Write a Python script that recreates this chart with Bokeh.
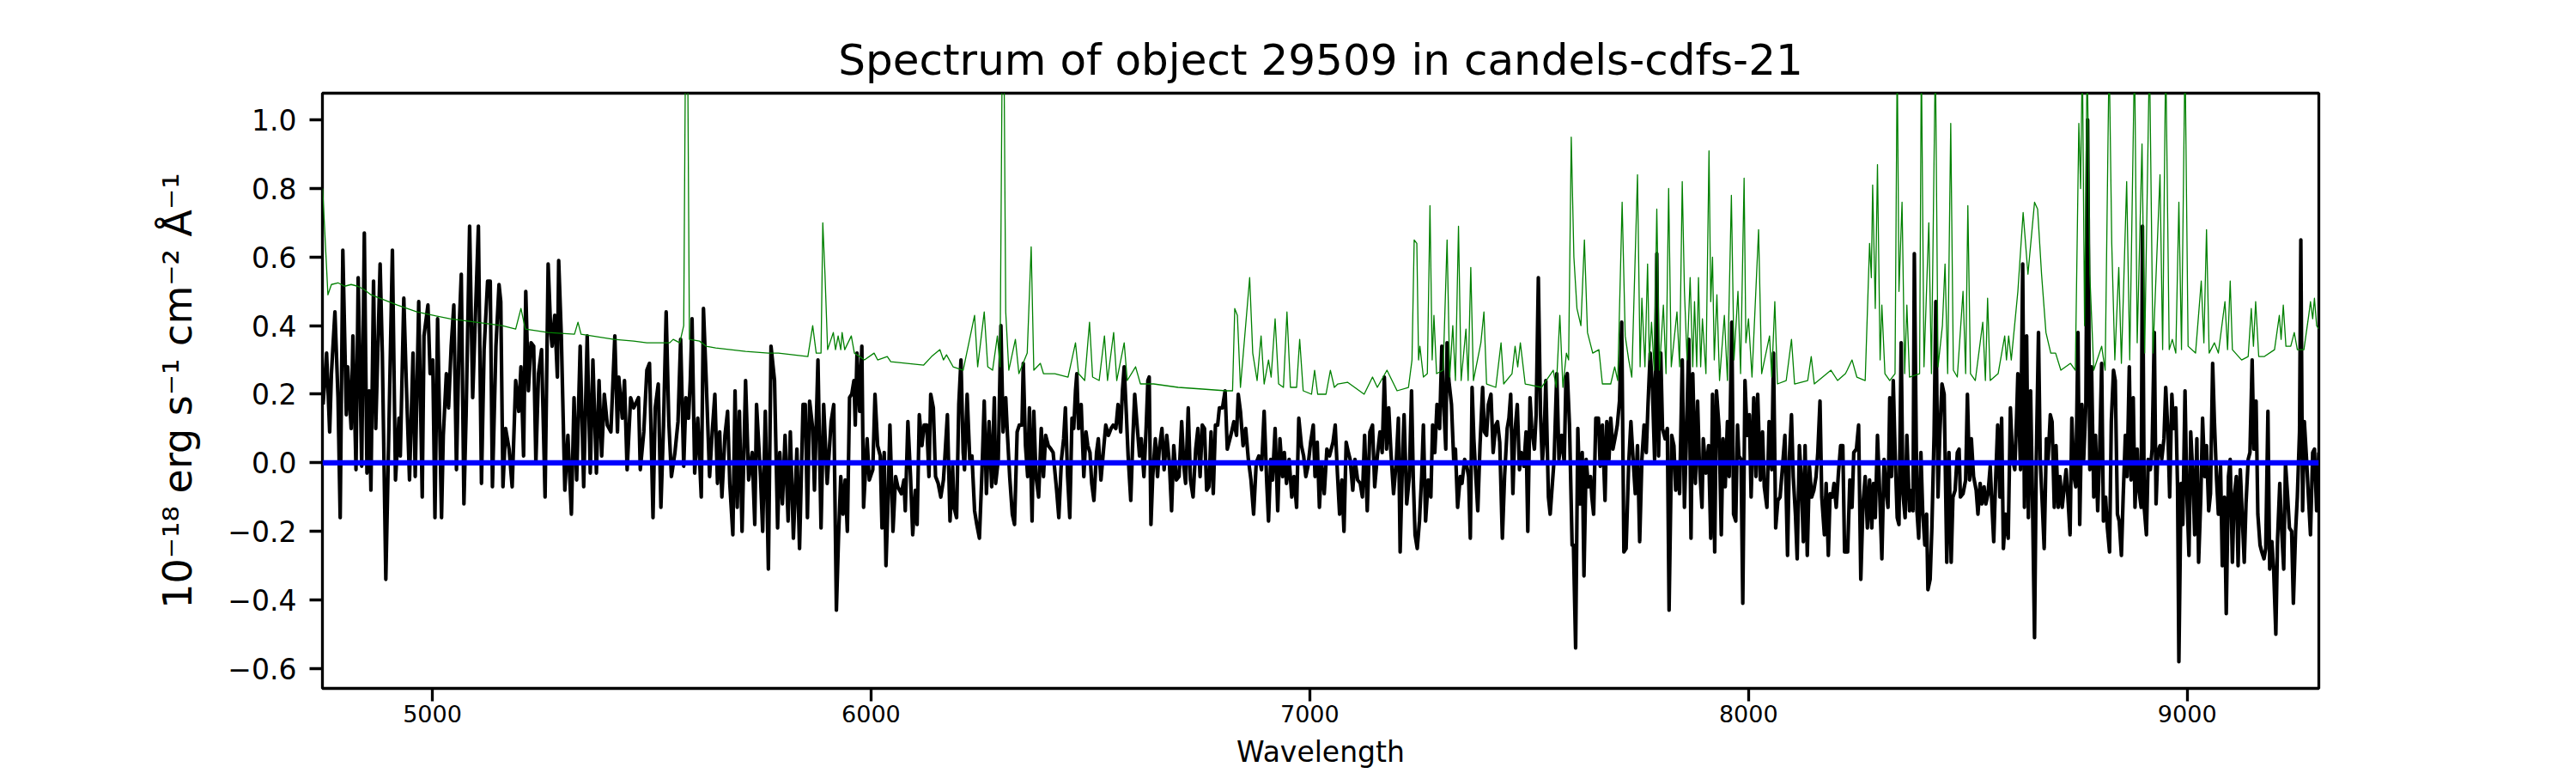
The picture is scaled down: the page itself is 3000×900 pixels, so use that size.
from bokeh.plotting import figure
from bokeh.models import Range1d, FixedTicker, CustomJSTickFormatter, Span
from bokeh.embed import file_html
from bokeh.resources import INLINE

# ---------------- data ----------------
title_text = "Spectrum of object 29509 in candels-cdfs-21"
x_label = "Wavelength"
y_label = "10\u207b\u00b9\u2078 erg s\u207b\u00b9 cm\u207b\u00b2 \u00c5\u207b\u00b9"

x_ticks = [5000, 6000, 7000, 8000, 9000]
y_ticks = [-0.6, -0.4, -0.2, 0.0, 0.2, 0.4, 0.6, 0.8, 1.0]
x_limits = (4749.5, 9300.0)
y_limits = (-0.658, 1.078)
zero_level = 0.0

# observed flux (black)
wave_flux = [
    4751, 4759, 4766, 4770, 4778, 4785, 4790, 4796, 4804, 4807, 4815, 4819, 4826, 4831, 4839, 4845,
    4851, 4856, 4860, 4866, 4871, 4881, 4886, 4894, 4901, 4909, 4916, 4924, 4927, 4935, 4941, 4948,
    4956, 4961, 4969, 4977, 4981, 4990, 4995, 5001, 5006, 5012, 5021, 5025, 5032, 5037, 5043, 5049,
    5055, 5062, 5066, 5072, 5077, 5085, 5092, 5105, 5112, 5118, 5126, 5132, 5137, 5145, 5152, 5156,
    5161, 5167, 5175, 5182, 5190, 5197, 5202, 5208, 5213, 5219, 5225, 5231, 5236, 5242, 5249, 5257,
    5264, 5270, 5273, 5279, 5285, 5288, 5294, 5302, 5309, 5317, 5323, 5329, 5337, 5345, 5353, 5360,
    5366, 5374, 5380, 5386, 5392, 5399, 5407, 5416, 5422, 5425, 5433, 5438, 5444, 5452, 5459, 5470,
    5474, 5482, 5489, 5495, 5503, 5508, 5515, 5521, 5527, 5533, 5539, 5545, 5553, 5560, 5566, 5573,
    5578, 5584, 5588, 5592, 5598, 5605, 5613, 5618, 5624, 5632, 5638, 5644, 5650, 5655, 5660, 5667,
    5673, 5678, 5685, 5690, 5695, 5700, 5706, 5714, 5721, 5729, 5735, 5739, 5748, 5753, 5759, 5766,
    5772, 5780, 5787, 5792, 5798, 5804, 5811, 5816, 5823, 5831, 5837, 5845, 5850, 5855, 5860, 5867,
    5871, 5879, 5886, 5892, 5900, 5909,
    5915, 5921, 5926, 5931, 5936, 5941, 5946, 5951, 5956, 5961, 5964, 5968, 5974, 5979, 5983, 5991,
    5996, 6004, 6009, 6015, 6021, 6025, 6030, 6034, 6039, 6043, 6050, 6056, 6061, 6069, 6075, 6078,
    6084, 6090, 6095, 6101, 6105, 6110, 6116, 6121, 6127, 6132, 6136, 6142, 6147, 6153, 6159, 6165,
    6168, 6174, 6180, 6186, 6189, 6195, 6200, 6205, 6210, 6213, 6219, 6225, 6230, 6236, 6241, 6247,
    6253, 6258, 6263, 6269, 6275, 6281, 6284, 6290, 6296, 6301, 6307, 6311, 6316, 6322, 6327, 6333,
    6338, 6344, 6347, 6352, 6357, 6361, 6367, 6371, 6376, 6382, 6388, 6393, 6398, 6404, 6410, 6415,
    6423, 6428, 6434, 6439, 6443, 6448, 6453, 6458, 6462, 6466, 6469, 6473, 6479, 6485, 6490, 6494,
    6499, 6503, 6508, 6514, 6518, 6524, 6530, 6535, 6541, 6547, 6552, 6558, 6563, 6569, 6573, 6577,
    6582, 6586, 6592, 6597, 6601, 6607, 6612, 6616, 6622, 6627, 6631, 6634, 6638, 6642, 6648, 6653,
    6657, 6663, 6668, 6674, 6680, 6685, 6690, 6696, 6702, 6708, 6713, 6717, 6723, 6728, 6734, 6740,
    6745, 6750, 6755, 6760, 6765, 6770, 6775, 6780, 6785, 6790, 6794, 6801, 6807, 6812, 6820, 6827,
    6833, 6837, 6842, 6848, 6854, 6860, 6866, 6872, 6878, 6884, 6890, 6896, 6902, 6906, 6911, 6915,
    6921, 6927, 6932, 6938, 6942, 6947, 6953, 6959, 6964, 6970, 6975, 6981, 6986, 6991, 6996, 7002,
    7008, 7012, 7017, 7022, 7027, 7033, 7039, 7045,
    7053, 7058, 7063, 7068, 7073, 7078, 7083, 7088, 7092, 7098, 7103, 7109, 7115, 7120, 7125, 7131,
    7137, 7143, 7148, 7154, 7160, 7165, 7170, 7175, 7180, 7185, 7191, 7197, 7202, 7206, 7212, 7215,
    7221, 7227, 7232, 7236, 7240, 7245, 7250, 7255, 7259, 7264, 7270, 7276, 7280, 7285, 7290, 7296,
    7301, 7305, 7310, 7313, 7317, 7323, 7328, 7332, 7337, 7343, 7347, 7353, 7358, 7362, 7366, 7370,
    7374, 7379, 7383, 7388, 7394, 7398, 7403, 7407, 7413, 7418, 7424, 7428, 7433, 7439, 7444, 7450,
    7454, 7458, 7463, 7467, 7473, 7478, 7482, 7488, 7493, 7497, 7502, 7506, 7512, 7516, 7521, 7526,
    7530, 7534, 7538, 7544, 7548, 7553, 7557, 7563, 7568, 7574, 7580, 7584, 7587, 7592, 7598, 7601,
    7606, 7611, 7616, 7621, 7625, 7630, 7635, 7640, 7643, 7647, 7652, 7658, 7662, 7667, 7673, 7677,
    7682, 7686, 7691, 7697, 7701, 7706, 7711, 7716, 7721, 7727, 7732, 7737, 7742, 7747, 7752, 7757,
    7762, 7767, 7771, 7776, 7781, 7786, 7791, 7795, 7800, 7804, 7810, 7815, 7819, 7825, 7830, 7834,
    7839, 7843, 7849, 7854, 7858, 7864, 7869, 7873, 7879, 7884, 7888, 7894, 7897, 7903, 7909, 7914,
    7918, 7923, 7927, 7933, 7938, 7942, 7947, 7952, 7956, 7962, 7966, 7971, 7975, 7978, 7983, 7987,
    7992, 7997, 8002, 8006, 8012, 8017, 8021, 8027, 8032, 8036, 8042, 8047, 8053, 8057, 8062, 8067,
    8072, 8077, 8083, 8089, 8093, 8098, 8102, 8107, 8111, 8116, 8120, 8125, 8129, 8134, 8139, 8144,
    8149, 8154, 8158, 8163, 8167, 8173, 8177, 8182, 8186, 8191, 8195, 8200, 8205, 8210, 8215, 8219,
    8226, 8231, 8236, 8240, 8246, 8251, 8256, 8261, 8266, 8271, 8276, 8281, 8285, 8289, 8294, 8298,
    8304, 8309, 8313, 8318, 8322, 8326, 8330, 8334, 8339, 8343, 8348, 8352, 8357, 8361, 8367, 8372,
    8375, 8378, 8384, 8388, 8393, 8397, 8402, 8406, 8409, 8414, 8418, 8423, 8427, 8432, 8436, 8441,
    8446, 8452, 8457, 8462, 8466, 8471, 8476, 8480, 8483, 8489, 8495, 8499, 8504, 8508, 8513, 8519,
    8523, 8528, 8532, 8537, 8541, 8546, 8551, 8554, 8559, 8563, 8568, 8573, 8577, 8581, 8586, 8592,
    8597, 8602, 8607, 8611, 8614, 8620, 8625, 8629, 8634, 8638, 8643, 8647, 8652, 8656, 8661, 8665,
    8670, 8674, 8679, 8683, 8688, 8692, 8697, 8701, 8706, 8710, 8715, 8719, 8724, 8728, 8733, 8737,
    8742, 8746, 8751, 8755, 8760, 8764, 8769, 8773, 8778, 8782, 8787, 8791, 8796, 8800, 8805, 8809,
    8814, 8818, 8823, 8827, 8832, 8836, 8841, 8845, 8850, 8854, 8859, 8863, 8868, 8872, 8877, 8881,
    8886, 8890, 8895, 8898, 8902, 8907, 8911, 8916, 8920, 8925, 8929, 8933, 8938, 8942, 8947, 8951,
    8956, 8960, 8965, 8969, 8974, 8978, 8981, 8986, 8990, 8995, 8999, 9004, 9008, 9013, 9017, 9022,
    9026, 9031, 9035, 9040, 9044, 9049, 9053, 9058, 9062, 9067, 9071, 9076, 9080, 9085, 9089, 9094,
    9098, 9103, 9107, 9112, 9116, 9121, 9125, 9130, 9134, 9139, 9143, 9148, 9152, 9157, 9161, 9166,
    9170, 9175, 9179, 9184, 9188, 9193, 9197, 9202, 9206, 9211, 9215, 9220, 9224, 9229, 9233, 9238,
    9242, 9247, 9251, 9256, 9259, 9263, 9267, 9272, 9276, 9281, 9286, 9290, 9295, 9300,
]
flux = [
    0.17, 0.32, 0.09, 0.26, 0.44, 0.19, -0.16, 0.62, 0.14, 0.28, 0.10, 0.37, -0.02, 0.54, -0.01, 0.67,
    -0.03, 0.21, -0.08, 0.53, 0.10, 0.58, 0.32, -0.34, 0.10, 0.62, -0.05, 0.13, 0.02, 0.48, 0.22, -0.05,
    0.32, -0.04, 0.47, -0.10, 0.37, 0.46, 0.26, 0.30, -0.16, 0.42, -0.16, 0.08, 0.26, 0.16, 0.34, 0.46,
    -0.02, 0.42, 0.55, -0.12, 0.14, 0.69, 0.19, 0.69, -0.06, 0.33, 0.53, 0.53, -0.07, 0.34, 0.52, 0.47,
    -0.07, 0.10, 0.04, -0.07, 0.24, 0.15, 0.28, 0.02, 0.50, 0.21, 0.35, 0.34, 0.00, 0.26, 0.33, -0.10,
    0.58, 0.38, 0.34, 0.43, 0.25, 0.59, 0.37, -0.08, 0.08, -0.15, 0.19, -0.05, 0.34, -0.07, 0.37, -0.03,
    0.30, -0.03, 0.24, 0.02, 0.20, 0.11, 0.09, 0.37, 0.09, 0.25, 0.13, 0.24, -0.02, 0.19, 0.16, 0.19,
    -0.02, 0.09, 0.27, 0.29, -0.16, 0.16, 0.23, -0.13, 0.11, 0.44, 0.12, -0.04, 0.03, 0.12, 0.36, -0.01,
    0.19, 0.13, 0.24, 0.42, -0.03, 0.13, -0.10, 0.45, 0.25, -0.04, 0.09, 0.20, -0.06, 0.09, -0.10, 0.08,
    0.15, -0.06, -0.21, 0.21, -0.13, 0.15, -0.20, 0.24, -0.05, 0.03, -0.18, 0.17, -0.04, -0.20, 0.15, -0.31,
    0.34, 0.24, -0.19, 0.03, -0.12, 0.08, -0.17, 0.09, -0.22, 0.04, -0.25, 0.17, 0.17, -0.16, 0.18, 0.10,
    -0.08, 0.30, -0.19, 0.17, -0.06, 0.12,
    0.17, -0.43, -0.21, -0.04, -0.15, -0.05, -0.20, 0.19, 0.20, 0.24, 0.11, 0.32, 0.15, 0.34, -0.13, 0.07,
    -0.05, -0.02, 0.20, 0.05, 0.02, -0.19, 0.03, -0.30, -0.10, 0.11, -0.20, -0.04, -0.07, -0.09, -0.05, -0.14,
    0.12, -0.04, -0.21, -0.08, -0.18, 0.14, 0.05, 0.11, 0.11, -0.04, 0.20, 0.16, -0.04, -0.06, -0.10, -0.05,
    0.01, 0.14, -0.17, -0.01, -0.13, -0.16, 0.17, 0.30, 0.03, -0.02, 0.20, 0.01, 0.02, -0.14, -0.18, -0.22,
    -0.02, 0.18, -0.09, 0.12, -0.07, 0.19, -0.06, 0.01, 0.40, 0.09, 0.19, 0.08, -0.04, -0.15, -0.18, 0.09,
    0.11, 0.11, 0.29, 0.05, -0.04, 0.16, -0.17, 0.15, -0.04, -0.10, 0.10, -0.04, 0.08, 0.05, 0.04, 0.03,
    -0.08, -0.16, 0.01, 0.07, 0.16, -0.04, -0.16, 0.13, 0.10, 0.21, 0.26, 0.10, 0.17, -0.04, 0.09, 0.05,
    0.03, -0.06, -0.11, 0.03, 0.07, -0.05, 0.04, 0.11, 0.08, 0.10, 0.11, 0.10, 0.17, 0.09, 0.21, 0.28,
    0.14, 0.02, -0.11, 0.08, 0.20, 0.10, 0.02, 0.07, -0.04, 0.10, 0.24, 0.25, -0.18, -0.04, 0.07, -0.04,
    0.04, 0.10, -0.02, 0.08, 0.00, -0.14, 0.05, -0.05, -0.04, 0.12, -0.01, -0.06, 0.16, -0.05, -0.10, 0.04,
    0.10, -0.04, 0.11, 0.10, -0.08, -0.07, 0.09, -0.09, 0.11, 0.11, 0.16, 0.16, 0.21, 0.04, 0.08, 0.12,
    0.08, 0.20, 0.15, 0.05, 0.10, 0.01, -0.05, -0.15, 0.00, 0.02, -0.02, 0.15, -0.06, -0.17, 0.01, -0.05,
    0.10, -0.14, 0.07, -0.04, 0.03, -0.06, 0.01, -0.10, -0.04, -0.13, 0.13, 0.05, 0.02, -0.04, -0.01, 0.06,
    0.11, -0.04, 0.06, -0.13, 0.00, -0.09, 0.04, 0.02,
    0.06, 0.11, -0.03, -0.15, -0.05, -0.20, 0.06, 0.03, 0.01, -0.08, 0.01, -0.05, -0.06, -0.10, 0.08, -0.14,
    0.09, 0.11, -0.07, 0.02, 0.09, 0.03, 0.25, 0.04, 0.16, 0.03, -0.09, 0.00, 0.13, -0.26, 0.04, 0.14,
    -0.12, -0.04, 0.21, -0.05, -0.21, -0.25, -0.17, -0.04, 0.11, -0.17, -0.05, -0.10, 0.11, 0.03, 0.17, 0.10,
    0.34, 0.18, 0.04, 0.35, 0.24, 0.17, 0.01, 0.04, -0.13, -0.04, -0.06, 0.01, -0.01, -0.04, -0.22, 0.22,
    0.07, -0.05, -0.14, 0.05, 0.22, 0.09, 0.08, 0.17, 0.20, 0.03, 0.11, 0.12, 0.06, -0.22, -0.04, 0.10,
    0.13, 0.20, -0.09, 0.08, 0.17, -0.02, 0.03, -0.01, 0.09, -0.20, 0.19, 0.10, 0.04, 0.14, 0.54, 0.14,
    0.00, 0.07, 0.24, -0.10, -0.15, -0.06, 0.01, 0.26, 0.01, 0.08, 0.00, 0.25, 0.26, 0.11, -0.24, -0.24,
    -0.54, 0.10, -0.12, 0.03, -0.33, 0.01, -0.07, -0.04, -0.10, -0.15, 0.13, 0.13, -0.01, 0.11, -0.11, 0.12,
    0.01, 0.13, 0.04, 0.08, 0.11, 0.18, 0.41, -0.26, -0.25, 0.00, 0.12, 0.01, -0.09, 0.05, -0.23, 0.01,
    0.11, 0.03, 0.17, 0.32, 0.22, 0.01, 0.61, 0.02, 0.32, 0.10, 0.07, 0.10, -0.43, 0.08, 0.05, -0.08,
    -0.01, -0.09, 0.30, -0.13, 0.05, 0.36, -0.22, 0.26, -0.06, 0.18, 0.00, -0.13, 0.07, -0.03, 0.05, -0.22,
    0.20, -0.26, 0.21, 0.10, -0.21, 0.07, -0.07, 0.12, -0.04, 0.41, -0.15, -0.17, 0.11, 0.02, 0.01, -0.41,
    0.24, 0.08, 0.14, -0.10, 0.19, -0.04, 0.20, -0.05, 0.09, -0.07, -0.13, 0.12, -0.02, 0.32, -0.19, -0.11,
    -0.10, -0.02, 0.08, -0.27, 0.01, 0.14, -0.04, -0.15, -0.28, 0.05, -0.04, -0.23, 0.05, -0.27, -0.01, -0.10,
    -0.08, -0.04, 0.03, 0.18, -0.10, -0.21, -0.06, -0.27, -0.09, -0.10, -0.06, -0.13, -0.03, 0.05, 0.05, -0.26,
    -0.26, -0.05, -0.13, 0.03, 0.04, 0.11, -0.34, -0.12, -0.04, -0.19, -0.05, -0.19, -0.06, -0.16, 0.08, -0.05,
    -0.28, 0.01, -0.07, -0.13, 0.19, -0.04, 0.24, 0.04, -0.16, -0.18, 0.35, -0.09, -0.16, 0.08, -0.14, -0.08,
    -0.14, 0.61, -0.14, -0.22, 0.03, -0.14, -0.24, -0.15, -0.37, -0.34, -0.19, 0.08, 0.47, -0.10, 0.08, 0.23,
    0.20, -0.29, 0.03, -0.29, -0.10, -0.08, 0.03, 0.04, -0.10, -0.09, -0.05, 0.20, -0.05, 0.07, -0.04, -0.08,
    -0.15, -0.06, -0.12, -0.07, -0.12, -0.09, -0.01, -0.10, -0.23, -0.06, 0.11, -0.10, 0.13, -0.25, -0.15, -0.22,
    0.16, 0.01, -0.02, 0.13, 0.26, -0.02, 0.58, -0.13, 0.37, -0.16, 0.21, -0.08, -0.51, 0.01, 0.38, 0.01,
    -0.13, -0.25, 0.07, 0.01, 0.14, 0.12, -0.13, 0.05, -0.13, -0.04, -0.13, -0.08, -0.02, -0.10, -0.21, 0.13,
    -0.04, -0.07, 0.38, -0.18, 0.17, 0.01, 0.17, 1.00, -0.02, 0.28, -0.10, 0.08, -0.14, 0.01, 0.29, -0.17,
    -0.10, -0.19, -0.26, 0.12, 0.27, 0.24, -0.15, -0.17, -0.27, -0.10, 0.08, -0.04, 0.28, -0.05, 0.19, -0.13,
    0.04, -0.08, -0.13, 0.69, -0.13, -0.21, 0.01, -0.02, 0.04, 0.38, -0.12, 0.03, 0.05, 0.01, 0.07, 0.22,
    0.09, -0.10, 0.20, 0.10, 0.16, -0.07, -0.58, -0.06, -0.18, 0.21, -0.08, -0.27, 0.09, -0.04, -0.21, 0.07,
    -0.29, -0.10, 0.13, -0.04, 0.05, -0.14, -0.09, 0.29, 0.12, -0.05, -0.15, -0.01, -0.30, -0.10, -0.44, -0.04,
    0.01, -0.29, -0.10, -0.04, -0.30, -0.02, -0.14, -0.29, -0.12, 0.01, 0.03, 0.30, 0.04, 0.18, -0.15, -0.24,
    -0.26, -0.28, -0.25, 0.15, -0.31, -0.23, -0.31, -0.50, -0.22, -0.06, -0.19, -0.31, 0.00, -0.10, -0.19, -0.20,
    -0.41, -0.20, -0.10, 0.09, 0.65, -0.14, 0.12, 0.01, -0.09, -0.21, 0.03, 0.04, -0.14, 0.03,
]

# sky / noise spectrum (green)
wave_sky = [
    4750, 4762, 4770, 4785, 4800, 4815, 4830, 4845, 4860, 4890, 4920, 4965, 5002, 5040, 5100, 5159,
    5190, 5202, 5212, 5264, 5324, 5332, 5339, 5414, 5459, 5489, 5541, 5549, 5564, 5573, 5577, 5582,
    5586, 5609, 5624, 5646, 5714, 5766, 5789, 5856, 5867, 5875, 5886, 5890,
    5895, 5901, 5914, 5919, 5925, 5931, 5934, 5940, 5955, 5962, 5985, 6007, 6015, 6037, 6045, 6120,
    6138, 6157, 6165, 6172, 6187, 6210, 6236, 6243, 6258, 6266, 6277, 6288, 6294, 6299, 6303, 6307,
    6314, 6329, 6337, 6356, 6365, 6371, 6386, 6393, 6419, 6449, 6466, 6473, 6487, 6498, 6505, 6520,
    6532, 6539, 6553, 6560, 6577, 6584, 6603, 6614, 6644, 6700, 6756, 6809, 6824, 6829, 6835, 6842,
    6863, 6870, 6880, 6889, 6896, 6906, 6912, 6921, 6929, 6940, 6948, 6956, 6970, 6977, 6985, 7004,
    7011, 7018, 7037, 7047, 7056,
    7064, 7086, 7124, 7143, 7154, 7176, 7199, 7225, 7233, 7238, 7244, 7248, 7251, 7259, 7268, 7274,
    7279, 7283, 7289, 7304, 7313, 7319, 7326, 7332, 7339, 7345, 7356, 7361, 7367, 7373, 7390, 7397,
    7403, 7424, 7436, 7442, 7461, 7468, 7474, 7480, 7491, 7528, 7555, 7562, 7570, 7577, 7585, 7590,
    7596, 7602, 7609, 7618, 7626, 7633, 7645, 7659, 7667, 7686, 7695, 7702, 7712, 7719, 7727, 7734,
    7747, 7753, 7757, 7764, 7770, 7774, 7779, 7785, 7791, 7797, 7806, 7812, 7818, 7824, 7837, 7843,
    7849, 7854, 7860, 7867, 7873, 7877, 7882, 7886, 7891, 7895, 7903, 7910, 7914, 7918, 7922, 7928,
    7934, 7945, 7952, 7961, 7967, 7976, 7982, 7990, 7994, 8000, 8008, 8023, 8030, 8048, 8053, 8060,
    8066, 8086, 8098, 8105, 8135, 8143, 8150, 8188, 8203, 8221,
    8225, 8236, 8247, 8266, 8276, 8280, 8283, 8289, 8294, 8300, 8304, 8311, 8322, 8334, 8339, 8343,
    8350, 8356, 8361, 8367, 8390, 8394, 8400, 8411, 8417, 8426, 8432, 8442, 8448, 8454, 8461, 8467,
    8476, 8489, 8495, 8500, 8506, 8517, 8534, 8540, 8545, 8551, 8569, 8584, 8588, 8593, 8599, 8614,
    8626, 8637, 8652, 8659, 8668, 8678, 8689, 8700, 8712, 8734, 8745, 8753, 8757, 8761, 8766, 8772,
    8778, 8787, 8805, 8813, 8822, 8828, 8835, 8844, 8850, 8862, 8869, 8880, 8886, 8897, 8903, 8914,
    8922, 8938, 8944, 8951, 8959, 8966, 8974, 8981, 8987, 8995, 9002, 9019, 9032, 9038, 9044, 9050,
    9062, 9071, 9086, 9092, 9098, 9103, 9124, 9139, 9146, 9151, 9156, 9163, 9176, 9199, 9210, 9214,
    9219, 9225, 9236, 9244, 9251, 9266, 9277, 9281, 9286, 9290, 9295, 9300,
]
sky = [
    0.80, 0.49, 0.52, 0.525, 0.515, 0.52, 0.515, 0.505, 0.49, 0.475, 0.46, 0.44, 0.43, 0.42, 0.41, 0.40,
    0.39, 0.45, 0.39, 0.38, 0.375, 0.41, 0.375, 0.36, 0.355, 0.35, 0.35, 0.36, 0.35, 0.40, 1.20, 1.20,
    0.36, 0.355, 0.34, 0.335, 0.325, 0.32, 0.32, 0.31, 0.40, 0.32, 0.32, 0.70,
    0.55, 0.33, 0.38, 0.33, 0.37, 0.33, 0.38, 0.33, 0.37, 0.32, 0.30, 0.32, 0.30, 0.31, 0.295, 0.285,
    0.31, 0.33, 0.30, 0.315, 0.28, 0.27, 0.43, 0.28, 0.44, 0.28, 0.27, 0.37, 0.28, 1.20, 1.20, 0.44,
    0.27, 0.36, 0.26, 0.32, 0.63, 0.27, 0.29, 0.26, 0.26, 0.25, 0.35, 0.26, 0.24, 0.41, 0.25, 0.24,
    0.37, 0.24, 0.38, 0.24, 0.35, 0.24, 0.28, 0.23, 0.23, 0.22, 0.215, 0.21, 0.21, 0.45, 0.43, 0.22,
    0.54, 0.32, 0.24, 0.37, 0.23, 0.30, 0.25, 0.42, 0.23, 0.22, 0.44, 0.22, 0.22, 0.36, 0.21, 0.20,
    0.27, 0.20, 0.20, 0.27, 0.22,
    0.23, 0.235, 0.20, 0.25, 0.22, 0.27, 0.21, 0.22, 0.30, 0.65, 0.64, 0.30, 0.34, 0.25, 0.26, 0.75,
    0.30, 0.43, 0.26, 0.27, 0.65, 0.25, 0.40, 0.24, 0.69, 0.24, 0.39, 0.24, 0.57, 0.24, 0.35, 0.44,
    0.23, 0.22, 0.35, 0.23, 0.26, 0.34, 0.28, 0.35, 0.23, 0.22, 0.27, 0.22, 0.43, 0.22, 0.32, 0.30,
    0.95, 0.60, 0.45, 0.40, 0.65, 0.38, 0.32, 0.33, 0.23, 0.23, 0.28, 0.24, 0.76, 0.37, 0.30, 0.25,
    0.84, 0.28, 0.48, 0.28, 0.58, 0.30, 0.41, 0.27, 0.74, 0.27, 0.46, 0.26, 0.80, 0.28, 0.44, 0.28,
    0.82, 0.50, 0.30, 0.54, 0.28, 0.47, 0.28, 0.54, 0.28, 0.42, 0.26, 0.91, 0.47, 0.60, 0.30, 0.49,
    0.24, 0.43, 0.24, 0.78, 0.30, 0.50, 0.26, 0.83, 0.35, 0.42, 0.25, 0.68, 0.26, 0.37, 0.25, 0.47,
    0.23, 0.24, 0.36, 0.23, 0.24, 0.31, 0.23, 0.27, 0.24, 0.26,
    0.27, 0.30, 0.25, 0.24, 0.64, 0.54, 0.81, 0.45, 0.87, 0.30, 0.46, 0.26, 0.24, 0.26, 1.20, 0.50,
    0.76, 0.26, 0.46, 0.25, 0.26, 1.20, 0.28, 0.70, 0.26, 1.20, 0.28, 0.40, 0.58, 0.26, 0.99, 0.27,
    0.25, 0.50, 0.26, 0.75, 0.26, 0.24, 0.41, 0.24, 0.48, 0.24, 0.26, 0.37, 0.30, 0.37, 0.30, 0.50,
    0.73, 0.55, 0.76, 0.74, 0.55, 0.38, 0.32, 0.32, 0.27, 0.29, 0.27, 0.99, 0.80, 1.20, 0.40, 1.20,
    0.55, 0.27, 0.34, 0.27, 1.20, 0.64, 0.30, 0.57, 0.29, 0.82, 0.30, 1.20, 0.35, 0.93, 0.32, 1.20,
    0.32, 0.84, 0.33, 1.20, 0.33, 0.36, 0.32, 0.76, 0.33, 1.20, 0.34, 0.32, 0.53, 0.35, 0.68, 0.32,
    0.35, 0.32, 0.47, 0.33, 0.53, 0.33, 0.30, 0.31, 0.45, 0.34, 0.47, 0.31, 0.31, 0.33, 0.43, 0.36,
    0.46, 0.34, 0.34, 0.38, 0.33, 0.33, 0.43, 0.47, 0.42, 0.48, 0.40, 0.39,
]

# ---------------- figure ----------------
p = figure(
    frame_width=2325, frame_height=693,
    x_range=Range1d(*x_limits), y_range=Range1d(*y_limits),
    output_backend="svg", toolbar_location=None,
    min_border_left=375, min_border_right=284, min_border_top=108, min_border_bottom=99,
    background_fill_color="white", border_fill_color="white",
)

p.line(wave_flux, flux, line_color="#000000", line_width=4.2, line_join="round")
p.line(wave_sky, sky, line_color="#008000", line_width=1.3, line_join="round")
p.add_layout(Span(location=zero_level, dimension="width", line_color="#0000ff", line_width=6.25))

p.grid.visible = False
p.outline_line_color = "black"
p.outline_line_width = 3.3
p.outline_line_alpha = 1.0

p.title.text = title_text
p.title.text_font = "DejaVu Sans"
p.title.text_font_size = "50px"
p.title.text_font_style = "normal"
p.title.text_color = "black"
p.title.align = "center"
p.title.standoff = 19

for ax in (p.xaxis[0], p.yaxis[0]):
    ax.axis_line_color = None
    ax.major_tick_line_color = "black"
    ax.major_tick_line_width = 3.3
    ax.major_tick_out = 15
    ax.major_tick_in = 0
    ax.minor_tick_line_color = None
    ax.major_label_text_font = "DejaVu Sans"
    ax.major_label_text_color = "black"
    ax.axis_label_text_font = "DejaVu Sans"
    ax.axis_label_text_font_style = "normal"
    ax.axis_label_text_color = "black"

p.xaxis.ticker = FixedTicker(ticks=x_ticks)
p.yaxis.ticker = FixedTicker(ticks=y_ticks)
p.yaxis.formatter = CustomJSTickFormatter(code="return tick.toFixed(1).replace('-', '\\u2212');")

p.xaxis.major_label_text_font_size = "27px"
p.xaxis.major_label_standoff = 4
p.xaxis.axis_label = x_label
p.xaxis.axis_label_text_font_size = "33px"
p.xaxis.axis_label_standoff = 12

p.yaxis.major_label_text_font_size = "33px"
p.yaxis.major_label_standoff = 15
p.yaxis.axis_label = y_label
p.yaxis.axis_label_text_font_size = "46px"
p.yaxis.axis_label_standoff = 28

open("out.html", "w").write(file_html(p, INLINE))
